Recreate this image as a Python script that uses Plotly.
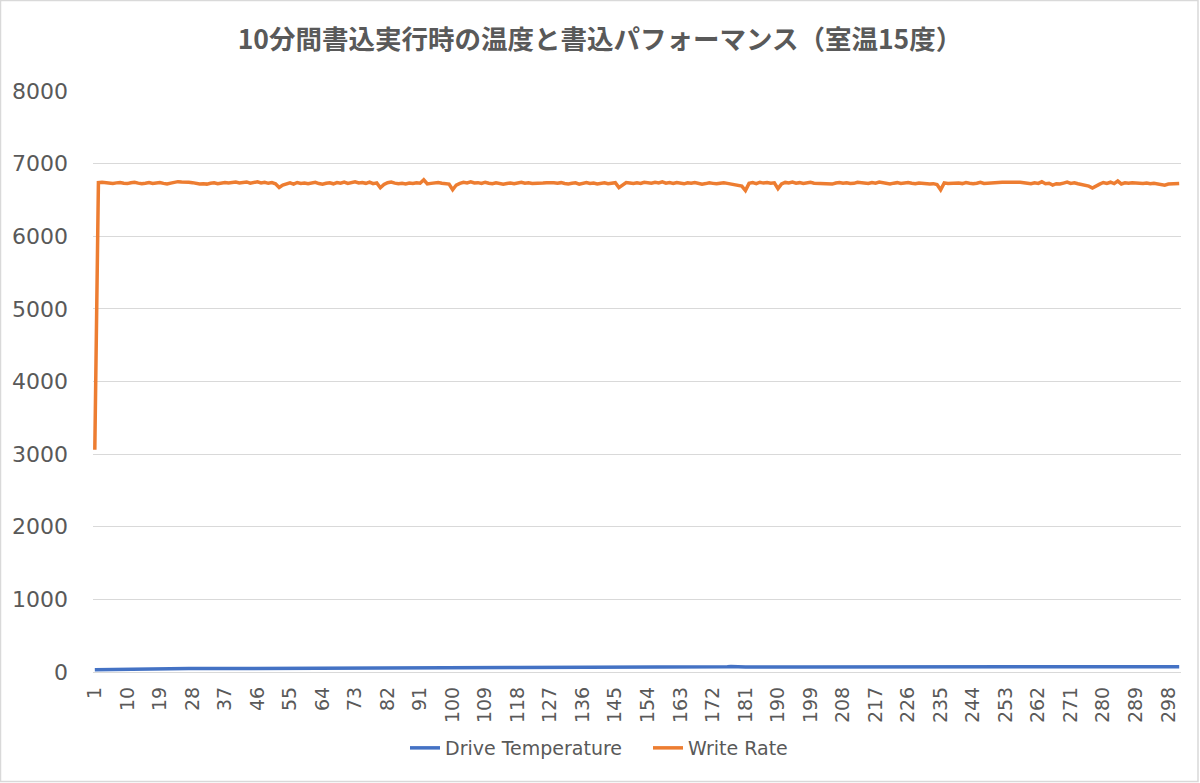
import plotly.graph_objects as go

title_text = "10分間書込実行時の温度と書込パフォーマンス（室温15度）"
series_names = ["Drive Temperature", "Write Rate"]

drive_temperature = [
    30, 31, 33, 35, 37, 38, 38, 39, 39, 39,
    40, 40, 40, 41, 41, 41, 44, 45, 45, 46,
    46, 46, 46, 47, 47, 47, 47, 47, 48, 48,
    48, 48, 48, 48, 48, 49, 49, 49, 49, 49,
    49, 49, 49, 50, 50, 50, 50, 50, 50, 50,
    50, 50, 50, 51, 51, 51, 51, 51, 51, 51,
    51, 51, 51, 51, 51, 52, 56, 57, 57, 58,
    58, 58, 58, 58, 59, 59, 59, 59, 59, 59,
    59, 59, 60, 60, 60, 60, 60, 60, 60, 60,
    60, 60, 60, 60, 60, 60, 61, 61, 61, 61,
    61, 61, 61, 61, 61, 61, 61, 61, 61, 61,
    61, 61, 61, 61, 61, 61, 61, 62, 62, 62,
    62, 62, 62, 62, 62, 62, 62, 62, 62, 62,
    62, 62, 62, 62, 62, 62, 62, 62, 62, 62,
    62, 62, 62, 62, 62, 62, 62, 62, 62, 63,
    63, 63, 63, 63, 63, 63, 63, 63, 63, 63,
    63, 63, 63, 63, 63, 63, 63, 63, 63, 63,
    63, 63, 63, 63, 66, 72, 75, 71, 66, 68,
    69, 69, 70, 70, 70, 70, 70, 70, 70, 70,
    70, 70, 70, 70, 70, 70, 70, 70, 70, 70,
    70, 70, 70, 70, 70, 70, 70, 70, 70, 70,
    70, 70, 70, 70, 70, 70, 70, 70, 70, 71,
    71, 71, 71, 71, 71, 71, 71, 71, 71, 71,
    71, 71, 71, 71, 71, 71, 71, 71, 71, 71,
    71, 71, 71, 71, 71, 71, 71, 71, 71, 71,
    71, 71, 71, 71, 71, 71, 71, 71, 71, 71,
    71, 71, 71, 71, 71, 71, 71, 71, 71, 71,
    71, 71, 71, 71, 71, 71, 71, 71, 71, 71,
    71, 71, 71, 71, 71, 71, 71, 71, 71, 71,
    71, 71, 71, 71, 71, 71, 71, 71, 71, 71,
    71,
]

write_rate = [
    3060, 6740, 6745, 6738, 6732, 6728, 6735, 6741, 6730, 6725,
    6737, 6744, 6731, 6722, 6729, 6738, 6726, 6733, 6740, 6728,
    6719, 6731, 6745, 6752, 6748, 6750, 6744, 6738, 6726, 6720,
    6724, 6718, 6730, 6735, 6722, 6728, 6741, 6733, 6737, 6746,
    6735, 6742, 6748, 6731, 6739, 6750, 6735, 6744, 6729, 6738,
    6722, 6672, 6705, 6721, 6735, 6718, 6740, 6728, 6733, 6722,
    6730, 6742, 6725, 6717, 6729, 6736, 6722, 6740, 6731, 6745,
    6728, 6738, 6749, 6733, 6741, 6729, 6746, 6724, 6735, 6668,
    6712, 6738, 6745, 6731, 6722, 6728, 6719, 6733, 6726, 6737,
    6730, 6778, 6720, 6728, 6735, 6741, 6730, 6723, 6718, 6640,
    6705, 6728, 6742, 6735, 6748, 6733, 6738, 6726, 6744, 6730,
    6722, 6735, 6729, 6717, 6726, 6733, 6722, 6738, 6744, 6730,
    6735, 6726, 6728, 6720, 6733, 6738, 6742, 6735, 6730, 6738,
    6726, 6721, 6729, 6735, 6718, 6730, 6740, 6727, 6733, 6721,
    6728, 6735, 6722, 6730, 6738, 6670, 6712, 6740, 6733, 6726,
    6735, 6728, 6744, 6737, 6729, 6742, 6733, 6748, 6730, 6739,
    6726, 6740, 6731, 6722, 6737, 6729, 6740, 6732, 6718, 6725,
    6735, 6728, 6722, 6730, 6736, 6728, 6720, 6715, 6710, 6690,
    6630, 6728, 6738, 6725, 6744, 6732, 6740, 6729, 6735, 6655,
    6720, 6741, 6733, 6745, 6730, 6738, 6726, 6735, 6742, 6731,
    6728, 6736, 6722, 6730, 6718, 6733, 6741, 6730, 6737, 6726,
    6729, 6744, 6735, 6738, 6727, 6740, 6731, 6745, 6733, 6728,
    6720, 6731, 6738, 6727, 6735, 6741, 6729, 6722, 6733, 6726,
    6730, 6718, 6724, 6712, 6640, 6735, 6726, 6729, 6720, 6733,
    6725, 6738, 6729, 6722, 6730, 6743, 6727, 6733, 6728, 6735,
    6741, 6745, 6744, 6746, 6745, 6743, 6744, 6738, 6725, 6722,
    6735, 6728, 6750, 6723, 6730, 6705, 6724, 6719, 6732, 6745,
    6728, 6735, 6722, 6712, 6700, 6690, 6665, 6695, 6718, 6740,
    6728, 6744, 6725, 6760, 6720, 6735, 6729, 6737, 6731, 6730,
    6726, 6733, 6722, 6728, 6720, 6712, 6704, 6718, 6722, 6716,
    6725,
]

categories = list(range(1, len(write_rate) + 1))
tick_labels = [str(c) for c in categories[::9]]
y_ticks = [0, 1000, 2000, 3000, 4000, 5000, 6000, 7000, 8000]

colors = ["#4472C4", "#ED7D31"]
grey = "#595959"
grid = "#D9D9D9"
font_latin = "DejaVu Sans"

fig = go.Figure()
fig.add_trace(go.Scatter(
    x=categories[:len(drive_temperature)], y=drive_temperature,
    mode="lines", name=series_names[0],
    line=dict(color=colors[0], width=3.5),
))
fig.add_trace(go.Scatter(
    x=categories, y=write_rate,
    mode="lines", name=series_names[1],
    line=dict(color=colors[1], width=3.5),
))

W, H = 1200, 783
ml, mr, mt, mb = 93, 19, 91, 111
pw, ph = W - ml - mr, H - mt - mb

fig.update_layout(
    width=W, height=H,
    margin=dict(l=ml, r=mr, t=mt, b=mb),
    paper_bgcolor="white", plot_bgcolor="white",
    title=dict(
        text="<b>" + title_text + "</b>",
        x=0.5, xanchor="center", y=1 - 40 / H, yanchor="middle",
        font=dict(family="Noto Sans CJK JP", size=26.5, color=grey),
    ),
    xaxis=dict(
        range=[0.5, len(categories) + 0.5],
        tickmode="array",
        tickvals=[int(t) for t in tick_labels],
        ticktext=tick_labels,
        tickangle=-90,
        showgrid=False, zeroline=False, showline=False,
        ticks="", ticklabelstandoff=10,
        tickfont=dict(family=font_latin, size=19, color=grey),
    ),
    yaxis=dict(
        range=[0, 8000],
        tickmode="array", tickvals=y_ticks,
        ticktext=[str(v) for v in y_ticks],
        showgrid=True, gridcolor=grid, gridwidth=1,
        zeroline=True, zerolinecolor=grid, zerolinewidth=1,
        showline=False, ticks="", ticklabelstandoff=24,
        tickfont=dict(family=font_latin, size=22, color=grey),
    ),
    legend=dict(
        orientation="h", x=(405 - ml) / pw, xanchor="left",
        y=-(748 - (H - mb)) / ph, yanchor="middle",
        font=dict(family=font_latin, size=19, color=grey),
        itemwidth=30,
        entrywidth=198, entrywidthmode="pixels",
    ),
    showlegend=True,
    shapes=[dict(
        type="rect", xref="paper", yref="paper",
        x0=(0.5 - ml) / pw, x1=(W - 2 - ml) / pw,
        y0=-(H - 1.5 - (H - mb)) / ph, y1=1 + (mt - 0.5) / ph,
        line=dict(color=grid, width=1.5), fillcolor="rgba(0,0,0,0)",
        layer="below",
    )],
)

fig.write_html("out.html")
